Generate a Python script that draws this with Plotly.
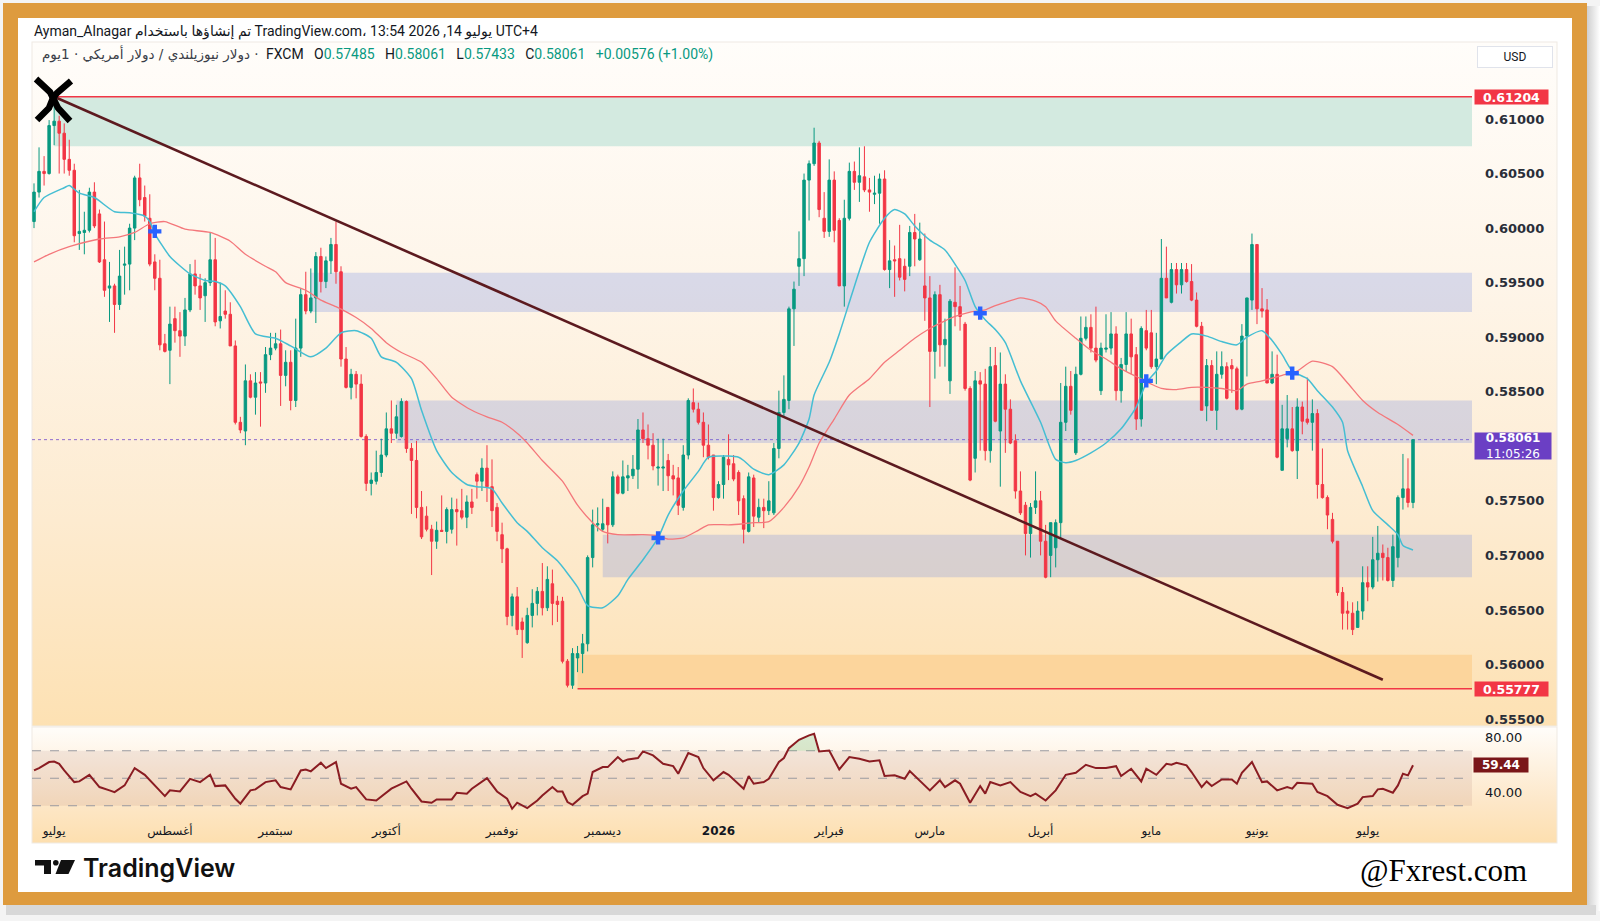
import base64
import pandas as pd
import plotly.graph_objects as go

W, H = 1600, 921

# ---------------- data (NZD/USD daily) ----------------
opens = [
0.6006,0.6033,0.6052,0.6050,0.6094,0.6098,0.6087,0.6063,0.6053,0.5995,
0.5996,0.5998,0.6033,0.6013,0.5971,0.5945,0.5947,0.5930,0.5966,0.5967,
0.6000,0.6046,0.6028,0.6009,0.5969,0.5954,0.5894,0.5888,0.5917,0.5906,
0.5901,0.5925,0.5958,0.5947,0.5938,0.5950,0.5971,0.5915,0.5924,0.5921,
0.5892,0.5822,0.5814,0.5860,0.5845,0.5859,0.5858,0.5884,0.5890,0.5894,
0.5865,0.5877,0.5842,0.5890,0.5939,0.5924,0.5936,0.5974,0.5951,0.5970,
0.5985,0.5960,0.5880,0.5854,0.5866,0.5857,0.5809,0.5766,0.5768,0.5776,
0.5792,0.5816,0.5812,0.5809,0.5841,0.5798,0.5787,0.5744,0.5736,0.5724,
0.5713,0.5723,0.5722,0.5724,0.5742,0.5741,0.5735,0.5749,0.5774,0.5768,
0.5780,0.5763,0.5744,0.5719,0.5706,0.5645,0.5662,0.5639,0.5620,0.5645,
0.5656,0.5667,0.5652,0.5674,0.5658,0.5658,0.5603,0.5581,0.5606,0.5610,
0.5619,0.5698,0.5728,0.5724,0.5744,0.5728,0.5772,0.5757,0.5771,0.5773,
0.5779,0.5815,0.5807,0.5801,0.5780,0.5780,0.5787,0.5773,0.5771,0.5744,
0.5792,0.5840,0.5834,0.5822,0.5801,0.5792,0.5753,0.5765,0.5788,0.5784,
0.5776,0.5752,0.5722,0.5771,0.5735,0.5744,0.5741,0.5739,0.5798,0.5831,
0.5842,0.5926,0.5965,0.5972,0.6044,0.6059,0.6078,0.6009,0.5997,0.6044,
0.6007,0.5947,0.6009,0.6052,0.6042,0.6047,0.6035,0.6031,0.6032,0.6045,
0.5962,0.5971,0.5972,0.5965,0.5965,0.5996,0.5971,0.5947,0.5936,0.5887,
0.5939,0.5893,0.5860,0.5932,0.5928,0.5912,0.5853,0.5789,0.5860,0.5857,
0.5796,0.5874,0.5814,0.5857,0.5834,0.5805,0.5759,0.5746,0.5720,0.5744,
0.5750,0.5713,0.5700,0.5707,0.5730,0.5822,0.5855,0.5794,0.5866,0.5899,
0.5909,0.5890,0.5851,0.5889,0.5890,0.5903,0.5851,0.5875,0.5903,0.5884,
0.5825,0.5906,0.5904,0.5873,0.5880,0.5954,0.5932,0.5962,0.5948,0.5962,
0.5951,0.5934,0.5910,0.5837,0.5874,0.5833,0.5866,0.5873,0.5874,0.5871,
0.5834,0.5901,0.5934,0.5985,0.5926,0.5925,0.5858,0.5866,0.5778,0.5807,
0.5816,0.5796,0.5836,0.5825,0.5822,0.5830,0.5765,0.5753,0.5733,0.5713,
0.5666,0.5649,0.5647,0.5634,0.5649,0.5675,0.5671,0.5696,0.5702,0.5698,
0.5677,0.5698,0.5753,0.5761,0.57485]

highs = [
0.6041,0.6074,0.6066,0.6099,0.6119,0.6103,0.6096,0.6081,0.6059,0.6035,
0.6015,0.6037,0.6042,0.6017,0.6006,0.5969,0.5949,0.5980,0.5983,0.6004,
0.6048,0.6059,0.6039,0.6031,0.5976,0.5971,0.5903,0.5928,0.5928,0.5923,
0.5936,0.5967,0.5971,0.5958,0.5954,0.5996,0.5991,0.5950,0.5943,0.5932,
0.5897,0.5827,0.5875,0.5866,0.5868,0.5868,0.5891,0.5904,0.5904,0.5907,
0.5888,0.5888,0.5917,0.5945,0.5960,0.5963,0.5978,0.5982,0.5974,0.5991,
0.6006,0.5965,0.5891,0.5871,0.5869,0.5866,0.5811,0.5776,0.5796,0.5807,
0.5831,0.5842,0.5838,0.5844,0.5842,0.5803,0.5805,0.5759,0.5745,0.5728,
0.5731,0.5755,0.5744,0.5753,0.5752,0.5761,0.5755,0.5761,0.5776,0.5789,
0.5801,0.5788,0.5748,0.5730,0.5707,0.5665,0.5671,0.5643,0.5652,0.5669,
0.5671,0.5693,0.5690,0.5687,0.5663,0.5662,0.5605,0.5615,0.5617,0.5628,
0.5700,0.5742,0.5744,0.5752,0.5744,0.5777,0.5774,0.5787,0.5783,0.5792,
0.5825,0.5831,0.5820,0.5812,0.5807,0.5807,0.5793,0.5783,0.5781,0.5801,
0.5844,0.5853,0.5840,0.5831,0.5820,0.5792,0.5768,0.5792,0.5811,0.5792,
0.5778,0.5755,0.5776,0.5774,0.5752,0.5752,0.5768,0.5803,0.5851,0.5865,
0.5928,0.5951,0.5997,0.6050,0.6062,0.6092,0.6080,0.6033,0.6063,0.6052,
0.6009,0.6026,0.6060,0.6061,0.6074,0.6075,0.6046,0.6048,0.6050,0.6053,
0.5989,0.5984,0.6003,0.5972,0.6002,0.6013,0.6005,0.5995,0.5956,0.5942,
0.5948,0.5917,0.5935,0.5964,0.5947,0.5914,0.5855,0.5869,0.5868,0.5871,
0.5891,0.5891,0.5886,0.5866,0.5843,0.5811,0.5777,0.5749,0.5748,0.5777,
0.5759,0.5728,0.5730,0.5733,0.5858,0.5873,0.5869,0.5873,0.5919,0.5919,
0.5921,0.5928,0.5895,0.5921,0.5923,0.5910,0.5881,0.5923,0.5917,0.5891,
0.5910,0.5925,0.5925,0.5904,0.5990,0.5983,0.5968,0.5968,0.5968,0.5968,
0.5967,0.5941,0.5914,0.5880,0.5879,0.5887,0.5887,0.5877,0.5880,0.5873,
0.5912,0.5936,0.5995,0.5985,0.5945,0.5935,0.5887,0.5884,0.5838,0.5847,
0.5836,0.5844,0.5841,0.5863,0.5843,0.5834,0.5798,0.5755,0.5739,0.5713,
0.5671,0.5658,0.5657,0.5658,0.5690,0.5690,0.5717,0.5727,0.5710,0.5707,
0.5719,0.5755,0.5793,0.5789,0.58061]

lows = [
0.6000,0.6028,0.6039,0.6049,0.6076,0.6050,0.6050,0.6048,0.5987,0.5980,
0.5976,0.5996,0.6000,0.5968,0.5937,0.5914,0.5904,0.5925,0.5939,0.5943,
0.5989,0.6020,0.6006,0.5965,0.5943,0.5888,0.5886,0.5857,0.5895,0.5882,
0.5892,0.5923,0.5939,0.5925,0.5914,0.5947,0.5910,0.5908,0.5917,0.5892,
0.5820,0.5812,0.5801,0.5844,0.5829,0.5818,0.5849,0.5879,0.5888,0.5837,
0.5855,0.5833,0.5836,0.5882,0.5921,0.5922,0.5913,0.5941,0.5945,0.5958,
0.5949,0.5873,0.5853,0.5843,0.5844,0.5808,0.5759,0.5755,0.5765,0.5772,
0.5790,0.5803,0.5807,0.5808,0.5794,0.5738,0.5734,0.5715,0.5722,0.5682,
0.5706,0.5722,0.5711,0.5720,0.5709,0.5733,0.5725,0.5738,0.5752,0.5759,
0.5749,0.5726,0.5713,0.5693,0.5636,0.5635,0.5627,0.5606,0.5619,0.5634,
0.5645,0.5645,0.5649,0.5636,0.5639,0.5601,0.5579,0.55777,0.5593,0.5592,
0.5612,0.5689,0.5722,0.5722,0.5711,0.5726,0.5756,0.5756,0.5759,0.5770,
0.5761,0.5803,0.5788,0.5778,0.5764,0.5759,0.5759,0.5755,0.5737,0.5741,
0.5788,0.5831,0.5820,0.5790,0.5788,0.5741,0.5752,0.5752,0.5769,0.5768,
0.5737,0.5711,0.5721,0.5726,0.5730,0.5725,0.5737,0.5737,0.5789,0.5827,
0.5834,0.5892,0.5947,0.5956,0.6007,0.6057,0.6010,0.5991,0.5992,0.5987,
0.5947,0.5928,0.6007,0.6035,0.6024,0.6033,0.6015,0.6022,0.6004,0.5961,
0.5945,0.5937,0.5952,0.5942,0.5956,0.5965,0.5970,0.5915,0.5836,0.5862,
0.5873,0.5873,0.5848,0.5910,0.5906,0.5851,0.5768,0.5776,0.5796,0.5787,
0.5785,0.5822,0.5763,0.5794,0.5802,0.5752,0.5737,0.5700,0.5698,0.5738,
0.5700,0.5679,0.5680,0.5689,0.5716,0.5814,0.5829,0.5792,0.5865,0.5897,
0.5886,0.5877,0.5847,0.5886,0.5884,0.5842,0.5840,0.5869,0.5866,0.5815,
0.5818,0.5888,0.5871,0.5857,0.5880,0.5936,0.5931,0.5940,0.5940,0.5950,
0.5933,0.5909,0.5833,0.5823,0.5833,0.5815,0.5862,0.5843,0.5849,0.5833,
0.5833,0.5864,0.5925,0.5912,0.5918,0.5858,0.5857,0.5789,0.5778,0.5799,
0.5795,0.5770,0.5811,0.5820,0.5796,0.5752,0.5752,0.5724,0.5711,0.5663,
0.5632,0.5632,0.5627,0.5634,0.5641,0.5658,0.5669,0.5676,0.5677,0.5676,
0.5671,0.5689,0.5742,0.5744,0.57433]

closes = [
0.6033,0.6052,0.6050,0.6094,0.6098,0.6087,0.6063,0.6053,0.5993,0.5997,
0.5998,0.6033,0.6002,0.5969,0.5943,0.5947,0.5930,0.5956,0.5967,0.6000,
0.6046,0.6026,0.6011,0.5967,0.5954,0.5893,0.5887,0.5912,0.5906,0.5901,
0.5925,0.5958,0.5947,0.5936,0.5950,0.5971,0.5914,0.5919,0.5921,0.5892,
0.5822,0.5815,0.5860,0.5845,0.5858,0.5858,0.5884,0.5890,0.5894,0.5865,
0.5877,0.5842,0.5890,0.5939,0.5924,0.5936,0.5974,0.5951,0.5970,0.5985,
0.5960,0.5880,0.5854,0.5866,0.5857,0.5809,0.5766,0.5769,0.5776,0.5792,
0.5816,0.5812,0.5827,0.5841,0.5798,0.5787,0.5744,0.5717,0.5724,0.5713,
0.5723,0.5722,0.5742,0.5742,0.5740,0.5735,0.5749,0.5744,0.5768,0.5780,
0.5763,0.5741,0.5722,0.5706,0.5644,0.5662,0.5632,0.5632,0.5645,0.5656,
0.5667,0.5652,0.5678,0.5656,0.5655,0.5603,0.5581,0.5610,0.5610,0.5619,
0.5698,0.5728,0.5729,0.5729,0.5728,0.5772,0.5757,0.5772,0.5773,0.5779,
0.5815,0.5807,0.5801,0.5782,0.5781,0.5781,0.5773,0.5770,0.5746,0.5792,
0.5842,0.5834,0.5822,0.5801,0.5790,0.5753,0.5765,0.5790,0.5783,0.5770,
0.5750,0.5724,0.5772,0.5736,0.5744,0.5741,0.5750,0.5798,0.5831,0.5843,
0.5926,0.5944,0.5972,0.6044,0.6059,0.6078,0.6017,0.5997,0.6044,0.5998,
0.5947,0.6009,0.6052,0.6042,0.6048,0.6035,0.6033,0.6032,0.6045,0.5962,
0.5970,0.5970,0.5955,0.5953,0.5996,0.5990,0.5990,0.5936,0.5887,0.5939,
0.5893,0.5898,0.5933,0.5928,0.5919,0.5853,0.5769,0.5860,0.5857,0.5796,
0.5873,0.5823,0.5857,0.5834,0.5803,0.5759,0.5739,0.5720,0.5744,0.5750,
0.5713,0.5680,0.5730,0.5730,0.5822,0.5855,0.5833,0.5866,0.5899,0.5909,
0.5890,0.5879,0.5890,0.5890,0.5903,0.5851,0.5875,0.5903,0.5882,0.5825,
0.5908,0.5890,0.5873,0.5880,0.5954,0.5936,0.5962,0.5948,0.5962,0.5951,
0.5934,0.5910,0.5833,0.5874,0.5833,0.5866,0.5873,0.5844,0.5871,0.5834,
0.5901,0.5936,0.5985,0.5926,0.5924,0.5858,0.5866,0.5790,0.5816,0.5816,
0.5796,0.5836,0.5823,0.5822,0.5830,0.5765,0.5753,0.5737,0.5713,0.5666,
0.5647,0.5647,0.5632,0.5649,0.5675,0.5671,0.5696,0.5702,0.5698,0.5677,
0.5708,0.5753,0.5761,0.57485,0.58061]

# moving averages (bar index, value)
ema_fast_idx = [0,2,6,7,9,12,16,19,22,23,24,27,31,34,36,38,41,44,48,51,55,58,61,64,67,69,72,75,77,80,
                83,86,88,91,93,96,98,101,104,108,110,113,116,118,121,124,126,129,132,134,138,140,141,143,146,
                149,152,154,155,158,160,162,164,166,169,171,173,175,178,181,183,185,187,189,191,193,196,200,
                203,205,207,210,213,216,219,221,223,225,228,230,233,236,239,241,244,246,248,250,253,255,258,
                260,261,264,266,269,271,272,274]
ema_fast = [0.6015,0.6028,0.6037,0.6039,0.6032,0.6028,0.6015,0.6014,0.6011,0.6006,0.5995,0.5974,0.5958,
            0.5952,0.5951,0.5947,0.5928,0.5903,0.5899,0.5892,0.5882,0.5890,0.5904,0.5906,0.5899,0.5882,
            0.5877,0.5862,0.5833,0.5796,0.5776,0.5765,0.5763,0.5761,0.5748,0.5730,0.5722,0.5707,0.5695,
            0.5671,0.5654,0.5652,0.5663,0.5678,0.5696,0.5716,0.5737,0.5759,0.5777,0.5790,0.5791,0.5790,
            0.5787,0.5779,0.5774,0.5783,0.5803,0.5825,0.5847,0.5877,0.5903,0.5932,0.5961,0.5987,0.6009,
            0.6017,0.6013,0.6002,0.5989,0.5980,0.5967,0.5952,0.5928,0.5916,0.5907,0.5895,0.5860,0.5822,
            0.5788,0.5785,0.5787,0.5794,0.5803,0.5816,0.5836,0.5858,0.5869,0.5884,0.5896,0.5903,0.5901,
            0.5896,0.5893,0.5900,0.5906,0.5897,0.5884,0.5869,0.5862,0.5851,0.5836,0.5822,0.5796,0.5763,
            0.5741,0.5728,0.5719,0.5709,0.5705]
ema_slow_idx = [0,3,7,13,17,20,23,26,30,35,39,42,46,48,50,54,57,60,64,67,70,73,77,80,83,87,90,93,96,98,
                101,105,108,111,113,116,121,124,126,129,132,134,138,141,143,146,149,152,154,156,159,162,
                166,169,172,175,178,181,183,186,189,191,193,196,199,201,203,207,210,213,216,219,222,224,
                227,230,233,236,239,241,244,248,251,254,258,261,264,267,271,274]
ema_slow = [0.5969,0.5976,0.5983,0.5990,0.5992,0.5996,0.6004,0.6006,0.5999,0.5996,0.5988,0.5976,0.5965,
            0.5960,0.5950,0.5943,0.5934,0.5928,0.5918,0.5908,0.5895,0.5886,0.5877,0.5862,0.5845,0.5833,
            0.5827,0.5822,0.5812,0.5803,0.5787,0.5768,0.5746,0.5730,0.5722,0.5719,0.5719,0.5718,0.5715,
            0.5716,0.5723,0.5728,0.5728,0.5729,0.5730,0.5731,0.5744,0.5763,0.5781,0.5803,0.5825,0.5847,
            0.5862,0.5877,0.5888,0.5899,0.5908,0.5915,0.5919,0.5923,0.5925,0.5929,0.5932,0.5936,0.5933,
            0.5928,0.5915,0.5899,0.5888,0.5880,0.5871,0.5864,0.5857,0.5853,0.5852,0.5854,0.5854,0.5853,
            0.5851,0.5857,0.5860,0.5865,0.5869,0.5878,0.5873,0.5858,0.5842,0.5831,0.5820,0.5810]
cross_idx = [24, 124, 188, 221, 250]
cross_price = [0.5997, 0.5716, 0.5922, 0.5860, 0.5867]

# RSI (bar index, value)
rsi_idx = [0,1,3,4,5,6,8,9,11,13,15,16,18,20,22,24,26,27,29,31,33,35,36,38,40,41,43,44,46,48,49,51,53,54,
           55,57,58,60,61,63,64,66,68,71,74,75,77,79,80,83,84,86,87,90,92,94,95,96,98,100,101,103,104,105,
           106,107,109,110,111,113,114,116,117,118,120,121,123,125,127,128,130,132,133,135,137,138,141,142,
           143,145,146,148,149,150,152,154,155,156,158,160,162,164,166,168,169,171,173,174,176,178,180,181,
           183,184,186,188,189,190,192,194,196,198,199,201,203,205,207,209,211,213,215,216,218,220,221,223,
           225,226,227,229,230,232,233,234,236,238,239,240,242,243,244,245,247,249,250,251,254,255,257,259,
           261,263,264,266,267,268,270,271,272,273,274]
rsi_val = [55.7,57.4,61.8,62.2,60.5,55.7,47.2,47.7,52.5,43.6,41.2,39.9,44.8,57.4,52.5,44.8,37.0,41.2,40.4,
           49.6,47.2,52.5,44.3,44.8,35.1,31.5,41.2,41.9,47.2,48.5,43.6,41.9,55.7,56.4,55.0,61.3,57.4,61.8,
           46.0,42.4,43.6,34.6,33.8,42.4,47.7,42.4,33.1,32.2,34.6,34.6,39.5,38.8,42.4,50.1,40.4,35.1,27.8,
           32.2,28.3,33.8,37.5,43.6,40.4,40.4,32.7,30.7,37.0,38.8,54.5,58.1,58.1,65.4,62.2,63.7,64.7,69.5,
           66.6,60.5,58.8,53.3,68.3,65.4,57.4,48.5,54.5,52.5,42.4,51.6,46.0,47.2,49.6,61.8,64.7,71.9,78.0,
           81.2,82.4,69.5,70.2,56.4,65.4,64.2,62.2,63.0,51.6,52.1,49.6,55.2,48.5,41.2,48.5,43.6,48.5,46.0,
           32.2,44.3,38.8,47.2,44.8,47.2,40.0,37.0,38.8,33.8,41.2,52.5,54.0,59.8,57.4,57.4,58.8,51.6,56.9,
           47.7,56.9,52.5,60.5,59.8,61.3,59.4,54.5,43.6,47.7,44.3,49.1,49.1,46.0,54.0,61.8,55.0,47.2,47.7,
           41.2,43.6,42.4,46.7,46.0,40.0,37.0,30.7,28.3,31.5,36.3,37.0,41.9,42.4,39.5,44.8,53.3,52.1,59.44]
rsi_ob_idx = [150, 152, 154, 155]
rsi_ob_val = [71.9, 78.0, 81.2, 82.4]

# drawn levels / zones
zone_start = [4, 55, 72, 113, 108]
zone_low = [0.6075, 0.5923, 0.5803, 0.5680, 0.55777]
zone_high = [0.61204, 0.5959, 0.5842, 0.5719, 0.5609]
zone_color = ['#D3EAE0', 'rgba(88,117,226,0.22)', 'rgba(88,117,226,0.22)',
              'rgba(88,117,226,0.22)', '#FCD59C']
level_start = [4, 108]
level_price = [0.61204, 0.55777]
trend_idx = [4, 268]
trend_price = [0.61204, 0.5586]
last_price = 0.58061
last_rsi = 59.44

price_ticks = [0.555, 0.56, 0.565, 0.57, 0.575, 0.585, 0.59, 0.595, 0.60, 0.605, 0.61]
month_dates = ["2025-07-01", "2025-08-01", "2025-09-01", "2025-10-01", "2025-11-03", "2025-12-01",
               "2026-01-01", "2026-02-02", "2026-03-02", "2026-04-01", "2026-05-01", "2026-06-01", "2026-07-01"]
month_labels = ["يوليو", "أغسطس", "سبتمبر", "أكتوبر", "نوفمبر", "ديسمبر", "<b>2026</b>",
                "فبراير", "مارس", "أبريل", "مايو", "يونيو", "يوليو"]

# ---------------- build ----------------
dates = pd.bdate_range("2025-06-25", periods=len(closes)) + pd.Timedelta(hours=12)
xr0 = pd.Timestamp("2025-06-25 02:24")
xr1 = pd.Timestamp("2026-07-30 05:17")


def PX(x):
    return x / W


def PY(y):
    return 1 - y / H


XD = [PX(32), PX(1472)]
Y1D = [PY(726), PY(42)]
Y2D = [PY(812), PY(728)]

svg = """<svg xmlns='http://www.w3.org/2000/svg' width='1600' height='921' viewBox='0 0 1600 921' preserveAspectRatio='none'>
<defs>
<linearGradient id='g1' x1='0' y1='0' x2='0' y2='1'>
<stop offset='0' stop-color='#FFFDFA'/><stop offset='0.35' stop-color='#FEF5E9'/>
<stop offset='0.7' stop-color='#FDEBD0'/><stop offset='1' stop-color='#FDE1B3'/></linearGradient>
<linearGradient id='g2' x1='0' y1='0' x2='0' y2='1'>
<stop offset='0' stop-color='#FFFDFA'/><stop offset='0.65' stop-color='#FDE7C8'/>
<stop offset='1' stop-color='#FDDFAF'/></linearGradient>
<linearGradient id='sh' x1='0' y1='0' x2='1' y2='0'>
<stop offset='0' stop-color='#CFCFCF'/><stop offset='1' stop-color='#FFFFFF'/></linearGradient>
</defs>
<rect width='1600' height='921' fill='#F4F4F4'/>
<rect x='1587' y='6' width='13' height='905' fill='url(#sh)'/>
<rect x='6' y='905' width='1590' height='10' fill='#D8D8D8'/>
<rect x='3' y='3' width='1584' height='902' fill='#DE9B3E'/>
<rect x='18' y='18' width='1554' height='874' fill='#FFFFFF'/>
<rect x='32' y='42' width='1525' height='684' fill='url(#g1)' stroke='#EFEAE3' stroke-width='1'/>
<rect x='32' y='727' width='1525' height='116' fill='url(#g2)' stroke='#EFEAE3' stroke-width='1'/>
</svg>"""
bg_src = "data:image/svg+xml;base64," + base64.b64encode(svg.encode("utf-8")).decode("ascii")

fig = go.Figure()

fig.add_trace(go.Candlestick(
    x=dates, open=opens, high=highs, low=lows, close=closes,
    increasing=dict(line=dict(color="#089981", width=1), fillcolor="#089981"),
    decreasing=dict(line=dict(color="#F23645", width=1), fillcolor="#F23645"),
    whiskerwidth=0, hoverinfo="skip", showlegend=False, xaxis="x", yaxis="y"))

fig.add_trace(go.Scatter(
    x=[dates[i] for i in ema_slow_idx], y=ema_slow, mode="lines",
    line=dict(color="#F4777B", width=1.3, shape="spline", smoothing=0.6),
    hoverinfo="skip", showlegend=False, xaxis="x", yaxis="y"))
fig.add_trace(go.Scatter(
    x=[dates[i] for i in ema_fast_idx], y=ema_fast, mode="lines",
    line=dict(color="#45BED3", width=1.5, shape="spline", smoothing=0.6),
    hoverinfo="skip", showlegend=False, xaxis="x", yaxis="y"))
fig.add_trace(go.Scatter(
    x=[dates[i] for i in cross_idx], y=cross_price, mode="markers",
    marker=dict(symbol="cross", size=11, color="#2962FF", line=dict(width=0)),
    hoverinfo="skip", showlegend=False, xaxis="x", yaxis="y"))

# RSI overbought fill
ob_x = [dates[rsi_ob_idx[0]]] + [dates[i] for i in rsi_ob_idx] + [dates[rsi_ob_idx[-1] + 1]]
ob_y = [70] + rsi_ob_val + [70]
fig.add_trace(go.Scatter(
    x=ob_x, y=ob_y, mode="lines", fill="toself", fillcolor="rgba(76,175,80,0.22)",
    line=dict(width=0), hoverinfo="skip", showlegend=False, xaxis="x2", yaxis="y2"))
fig.add_trace(go.Scatter(
    x=[dates[i] for i in rsi_idx], y=rsi_val, mode="lines",
    line=dict(color="#8A1C22", width=2),
    hoverinfo="skip", showlegend=False, xaxis="x2", yaxis="y2"))

shapes = []
for s, lo, hi, col in zip(zone_start, zone_low, zone_high, zone_color):
    shapes.append(dict(type="rect", xref="x", yref="y", x0=dates[s], x1=xr1, y0=lo, y1=hi,
                       fillcolor=col, line=dict(width=0), layer="below"))
for s, p in zip(level_start, level_price):
    shapes.append(dict(type="line", xref="x", yref="y", x0=dates[s], x1=xr1, y0=p, y1=p,
                       line=dict(color="#F23645", width=1.5), layer="above"))
shapes.append(dict(type="line", xref="paper", yref="y", x0=XD[0], x1=XD[1], y0=last_price, y1=last_price,
                   line=dict(color="#8E6CCF", width=1, dash="dot"), layer="below"))
shapes.append(dict(type="line", xref="x", yref="y", x0=dates[trend_idx[0]], y0=trend_price[0],
                   x1=dates[trend_idx[1]], y1=trend_price[1],
                   line=dict(color="#5C1A1F", width=2.6), layer="above"))
shapes.append(dict(type="rect", xref="paper", yref="y2", x0=XD[0], x1=XD[1], y0=30, y1=70,
                   fillcolor="rgba(150,80,80,0.11)", line=dict(width=0), layer="below"))
for lv in (70, 50, 30):
    shapes.append(dict(type="line", xref="paper", yref="y2", x0=XD[0], x1=XD[1], y0=lv, y1=lv,
                       line=dict(color="#9A9AA0", width=1, dash="dash"), layer="below"))
# X logo (two slightly curved strokes)
for pts in [[(36, 79), (50, 92), (53, 98), (49, 108), (37, 120)],
            [(71, 81), (57, 93), (53, 98), (58, 108), (70, 121)]]:
    p = "M " + " L ".join(f"{PX(a):.5f} {PY(b):.5f}" for a, b in pts)
    shapes.append(dict(type="path", xref="paper", yref="paper", path=p,
                       line=dict(color="#000000", width=6.5), layer="above"))
# TradingView logo icon
shapes.append(dict(type="rect", xref="paper", yref="paper", x0=PX(35), x1=PX(51), y0=PY(865.5), y1=PY(860),
                   fillcolor="#111111", line=dict(width=0)))
shapes.append(dict(type="rect", xref="paper", yref="paper", x0=PX(44), x1=PX(51), y0=PY(874), y1=PY(860),
                   fillcolor="#111111", line=dict(width=0)))
shapes.append(dict(type="circle", xref="paper", yref="paper", x0=PX(53), x1=PX(58.6), y0=PY(865.6), y1=PY(860),
                   fillcolor="#111111", line=dict(width=0)))
pts = [(61, 860), (75, 860), (68.5, 874), (55.5, 874)]
path = "M " + " L ".join(f"{PX(a):.5f} {PY(b):.5f}" for a, b in pts) + " Z"
shapes.append(dict(type="path", xref="paper", yref="paper", path=path,
                   fillcolor="#111111", line=dict(width=0)))

G = "#089981"
NB = "\u00a0"
SP = NB * 3
ohlc_txt = (f"FXCM{SP}O<span style='color:{G}'>0.57485</span>{SP}"
            f"H<span style='color:{G}'>0.58061</span>{SP}"
            f"L<span style='color:{G}'>0.57433</span>{SP}"
            f"C<span style='color:{G}'>0.58061</span>{SP}"
            f"<span style='color:{G}'>+0.00576 (+1.00%)</span>")

TXT = "#131722"
annotations = [
    dict(text="Ayman_Alnagar تم إنشاؤها باستخدام TradingView.com، 13:54 2026 ,14 يوليو UTC+4",
         xref="paper", yref="paper", x=PX(32), y=PY(31.5), xanchor="left", yanchor="middle",
         showarrow=False, font=dict(family="Roboto, DejaVu Sans", size=14, color=TXT)),
    dict(text="دولار نيوزيلندي / دولار أمريكي · 1يوم ·",
         xref="paper", yref="paper", x=PX(261), y=PY(54), xanchor="right", yanchor="middle",
         showarrow=False, font=dict(family="DejaVu Sans", size=13.5, color="#3A3E48")),
    dict(text=ohlc_txt, xref="paper", yref="paper", x=PX(264), y=PY(54), xanchor="left", yanchor="middle",
         showarrow=False, font=dict(family="Roboto, DejaVu Sans", size=14, color=TXT)),
    dict(text="USD", xref="paper", yref="paper", x=PX(1515), y=PY(56.5), xanchor="center", yanchor="middle",
         showarrow=False, font=dict(family="Roboto, DejaVu Sans", size=12, color=TXT),
         bgcolor="#FFFFFF", bordercolor="#E0E3EB", borderwidth=1, width=72, height=18, borderpad=1),
    dict(text="<b>0.61204</b>", xref="paper", yref="y", x=PX(1474), y=level_price[0], xanchor="left",
         yanchor="middle", showarrow=False, font=dict(family="DejaVu Sans", size=12.5, color="#FFFFFF"),
         bgcolor="#F23645", width=73, height=14, borderpad=0),
    dict(text="<b>0.55777</b>", xref="paper", yref="y", x=PX(1474), y=level_price[1], xanchor="left",
         yanchor="middle", showarrow=False, font=dict(family="DejaVu Sans", size=12.5, color="#FFFFFF"),
         bgcolor="#F23645", width=73, height=14, borderpad=0),
    dict(text="<b>0.58061</b><br>11:05:26", xref="paper", yref="y", x=PX(1474), y=last_price, xanchor="left",
         yanchor="top", yshift=8, showarrow=False,
         font=dict(family="DejaVu Sans", size=12, color="#FFFFFF"),
         bgcolor="#6B3FC4", width=76, height=26, borderpad=0),
    dict(text="<b>59.44</b>", xref="paper", yref="y2", x=PX(1473), y=last_rsi, xanchor="left",
         yanchor="middle", showarrow=False, font=dict(family="DejaVu Sans", size=12, color="#FFFFFF"),
         bgcolor="#7A1619", width=54, height=14, borderpad=0),
    dict(text="TradingView", xref="paper", yref="paper", x=PX(81), y=PY(867.5), xanchor="left",
         yanchor="middle", showarrow=False,
         font=dict(family="Inter, Roboto", size=25, color="#111111", weight=600)),
    dict(text="@Fxrest.com", xref="paper", yref="paper", x=PX(1443), y=PY(870), xanchor="center",
         yanchor="middle", showarrow=False,
         font=dict(family="Liberation Serif", size=31, color="#000000")),
]

fig.update_layout(
    width=W, height=H, margin=dict(l=0, r=0, t=0, b=0),
    paper_bgcolor="#FFFFFF", plot_bgcolor="rgba(0,0,0,0)",
    showlegend=False, hovermode=False, dragmode=False,
    font=dict(family="DejaVu Sans", color=TXT),
    images=[dict(source=bg_src, xref="paper", yref="paper", x=0, y=1, sizex=1, sizey=1,
                 xanchor="left", yanchor="top", sizing="stretch", layer="below")],
    shapes=shapes, annotations=annotations,
    xaxis=dict(domain=XD, anchor="y", type="date", range=[xr0, xr1],
               rangebreaks=[dict(bounds=["sat", "mon"])], showticklabels=False,
               showgrid=False, zeroline=False, showline=False, ticks="",
               rangeslider=dict(visible=False), fixedrange=True),
    yaxis=dict(domain=Y1D, anchor="x", side="right", range=[0.554363, 0.617058],
               tickvals=price_ticks, ticktext=[f"{v:.5f}" for v in price_ticks],
               tickfont=dict(family="DejaVu Sans", size=13, color="#2A2E39", weight="bold"),
               showgrid=False, zeroline=False, showline=False, ticks="", ticklabelstandoff=12,
               fixedrange=True),
    xaxis2=dict(domain=XD, anchor="y2", type="date", matches="x", range=[xr0, xr1],
                rangebreaks=[dict(bounds=["sat", "mon"])],
                tickvals=[pd.Timestamp(d) + pd.Timedelta(hours=12) for d in month_dates],
                ticktext=month_labels, tickfont=dict(family="DejaVu Sans", size=12, color=TXT),
                showgrid=False, zeroline=False, showline=False, ticks="", ticklabelstandoff=10,
                fixedrange=True),
    yaxis2=dict(domain=Y2D, anchor="x2", side="right", range=[25.45, 86.55],
                tickvals=[40, 80], ticktext=["40.00", "80.00"],
                tickfont=dict(family="DejaVu Sans", size=13, color=TXT),
                showgrid=False, zeroline=False, showline=False, ticks="", ticklabelstandoff=12,
                fixedrange=True),
)

fig.write_html("out.html", config={"displayModeBar": False})
